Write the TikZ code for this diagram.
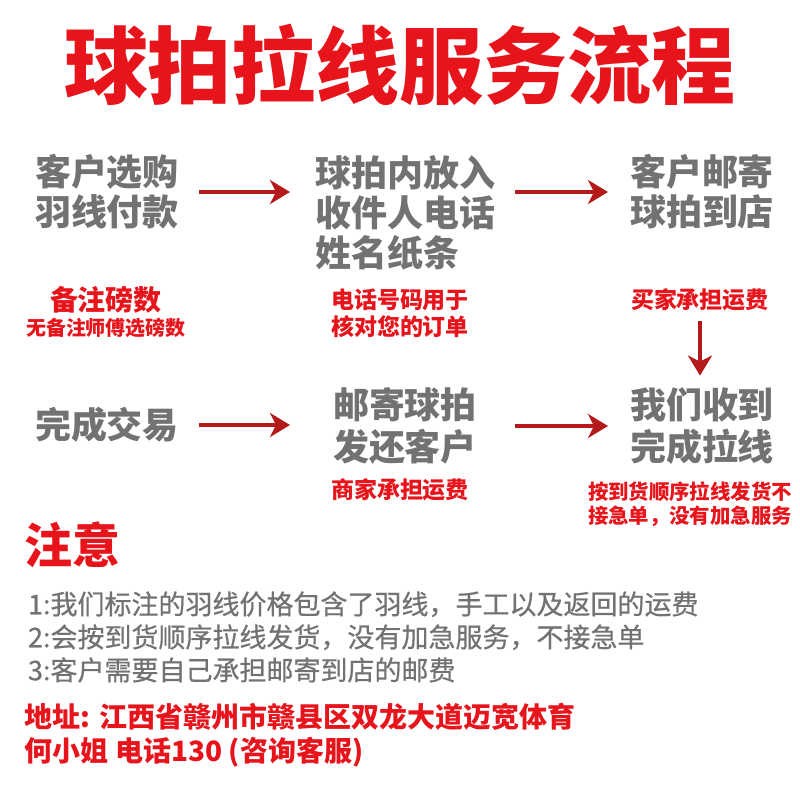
\documentclass[tikz,border=0pt]{standalone}
\usepackage{fontspec}
\setmainfont{Noto Sans CJK SC}
\newfontfamily\notefont{Noto Sans CJK SC}[FakeBold=0.6]
\usetikzlibrary{arrows.meta}
\definecolor{tred}{HTML}{E8141C}
\definecolor{tgray}{HTML}{727272}
\definecolor{adred}{HTML}{B41A1A}
\tikzset{
  every node/.style={inner sep=0pt, outer sep=0pt},
  flowtext/.style={anchor=west, align=left, text=tgray, font=\bfseries\fontsize{18}{20}\selectfont},
  redlab/.style={align=center, text=tred, font=\bfseries\fontsize{11.5}{13.5}\selectfont},
  arr/.style={draw=adred, line width=2pt, -{Stealth[length=10pt,width=12pt,inset=3pt]}},
}
\begin{document}
\begin{tikzpicture}[x=0.5pt,y=-0.5pt]
\fill[white] (0,0) rectangle (800,800);
\useasboundingbox (0,0) rectangle (800,800);
\node[text=tred, font=\bfseries\fontsize{42}{46}\selectfont] (title) at (400,65) {球拍拉线服务流程};

\node[flowtext] (a1) at (35,192) {客户选购\\羽线付款};
\node[flowtext] (a2) at (315,213) {球拍内放入\\收件人电话\\姓名纸条};
\node[flowtext] (a3) at (630,192) {客户邮寄\\球拍到店};

\node[text=tred, font=\bfseries\fontsize{14}{16}\selectfont] (l1a) at (106,300) {备注磅数};
\node[text=tred, font=\bfseries\fontsize{10}{12}\selectfont] (l1b) at (106,328) {无备注师傅选磅数};
\node[redlab] (l2) at (400,313) {电话号码用于\\核对您的订单};
\node[redlab] (l3) at (700,300) {买家承担运费};

\node[flowtext] (b1) at (35,425) {完成交易};
\node[flowtext, font=\bfseries\fontsize{18}{21}\selectfont] (b2) at (333,426) {邮寄球拍\\发还客户};
\node[flowtext, font=\bfseries\fontsize{18}{21}\selectfont] (b3) at (630,426) {我们收到\\完成拉线};

\node[redlab] (l4) at (400,490) {商家承担运费};
\node[redlab, font=\bfseries\fontsize{10.2}{12}\selectfont] (l5) at (690,504) {按到货顺序拉线发货不\\接急单，没有加急服务};

\draw[arr] ([xshift=10pt]a1.east) -- ([xshift=-12.5pt]a1.east -| a2.west);
\draw[arr] ([xshift=10pt]a3.west -| a2.east) -- ([xshift=-11pt]a3.west);
\draw[arr] ([yshift=-5pt]l3.south) -- ([yshift=6pt]l3.south |- b3.north);
\draw[arr] ([xshift=10pt]b1.east) -- ([xshift=-21.5pt]b1.east -| b2.west);
\draw[arr] ([xshift=19pt]b2.east) -- ([xshift=-11pt]b2.east -| b3.west);

\node[anchor=west, text=tred, font=\bfseries\fontsize{24}{26}\selectfont] (zy) at (25,545) {注意};
\node[anchor=west, align=left, text=tgray, font=\notefont\fontsize{13.5}{16.5}\selectfont] (notes) at (28,637) {1:我们标注的羽线价格包含了羽线，手工以及返回的运费\\2:会按到货顺序拉线发货，没有加急服务，不接急单\\3:客户需要自己承担邮寄到店的邮费};
\node[anchor=west, align=left, text=tred, font=\bfseries\fontsize{14}{17}\selectfont] (addr) at (25,735) {地址: 江西省赣州市赣县区双龙大道迈宽体育\\何小姐 电话130 (咨询客服)};
\end{tikzpicture}
\end{document}
